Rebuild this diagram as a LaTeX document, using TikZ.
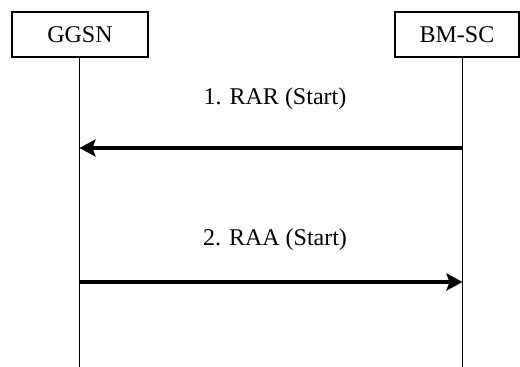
\documentclass[tikz,border=0pt]{standalone}
\usepackage{fontspec}
\setmainfont{Liberation Serif}
\usetikzlibrary{arrows.meta}

\tikzset{
  entity/.style={draw, line width=1.3pt, minimum height=45pt, inner sep=0pt,
    font=\fontsize{24}{28}\selectfont},
  lifeline/.style={line width=1.7pt},
  msg/.style={line width=3.5pt, -{Stealth[length=16pt, width=17pt, inset=3pt]}},
  msglabel/.style={anchor=base, font=\fontsize{24}{28}\selectfont}
}

\begin{document}
\begin{tikzpicture}[x=1pt, y=-1pt]
    \useasboundingbox (0,0) rectangle (520,367);

    \node[entity, minimum width=136pt] (ggsn) at (80, 34.5) {GGSN};
    \node[entity, minimum width=124pt] (bmsc) at (457, 34.5) {BM-SC};

    \coordinate (ggsnend) at (79.5, 367);
    \coordinate (bmscend) at (462.5, 367);
    \coordinate (rarfrom) at (462.5, 148);
    \coordinate (rarto) at (79.5, 148);
    \coordinate (raafrom) at (79.5, 282);
    \coordinate (raato) at (462.5, 282);

    \draw[lifeline] (ggsn.south -| ggsnend) -- (ggsnend);
    \draw[lifeline] (bmsc.south -| bmscend) -- (bmscend);

    \node[msglabel] (rarlabel) at (275, 104) {1. RAR (Start)};
    \node[msglabel] (raalabel) at (275, 245) {2. RAA (Start)};

    \draw[msg] (rarfrom) -- (rarto);
    \draw[msg] (raafrom) -- (raato);
\end{tikzpicture}
\end{document}
